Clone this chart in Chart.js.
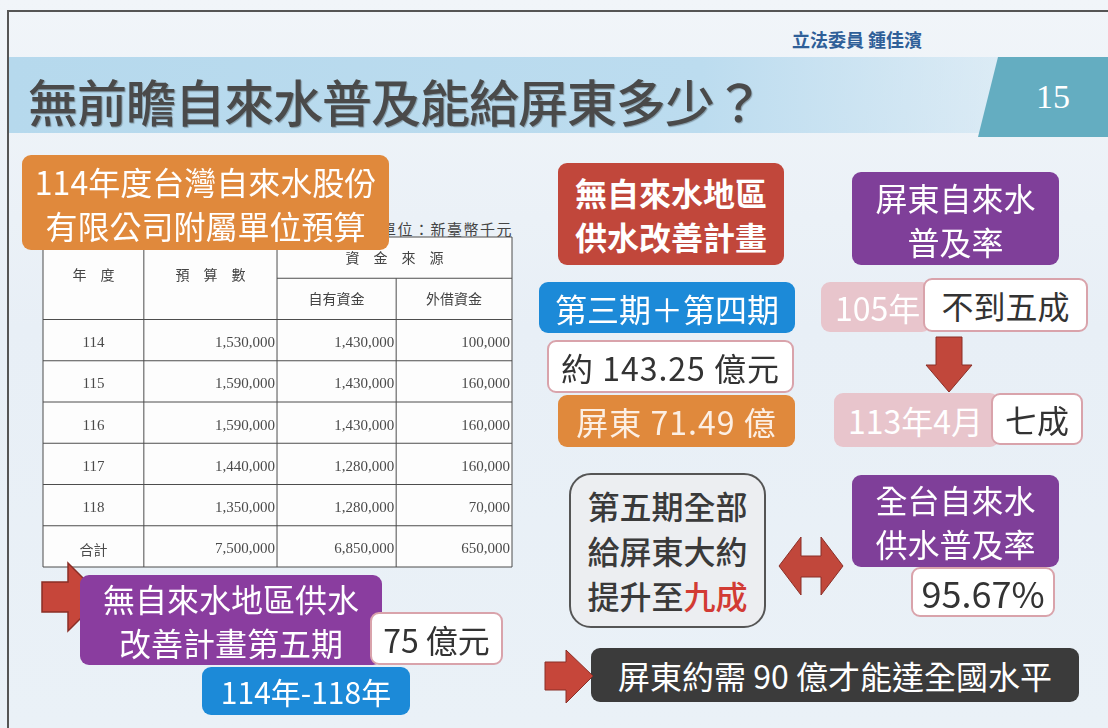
<!DOCTYPE html>
<html lang="zh-Hant">
<head>
<meta charset="UTF-8">
<title>無前瞻自來水普及能給屏東多少？</title>
<script src="https://cdn.jsdelivr.net/npm/chart.js"></script>
<style>
    body {
        margin: 0;
        width: 1108px;
        height: 728px;
        overflow: hidden;
        font-family: "Noto Sans CJK TC", "Noto Sans", sans-serif;
        background: #eaf1f7;
    }
    .slide {
        position: relative;
        width: 1108px;
        height: 728px;
        background: linear-gradient(180deg, #f1f5f9 0%, #e8eff6 45%, #eaf1f7 100%);
    }
    .frame {
        position: absolute;
        left: 7px;
        top: 10px;
        width: 1120px;
        height: 740px;
        border-left: 2px solid #555;
        border-top: 2px solid #555;
    }
    .band {
        position: absolute;
        left: 9px;
        top: 57px;
        width: 990px;
        height: 76px;
        background: linear-gradient(90deg, #b6d9ed 0%, #bcdcef 70%, rgba(190,222,240,0.4) 100%);
    }
    .tab {
        position: absolute;
        left: 978px;
        top: 57px;
        width: 140px;
        height: 80px;
        background: #64adc1;
        clip-path: polygon(20px 0, 140px 0, 140px 80px, 0 80px);
        color: #fff;
        font-family: "Liberation Serif", serif;
        font-size: 34px;
        line-height: 80px;
        text-indent: 58px;
    }
    .title {
        position: absolute;
        left: 28px;
        top: 62px;
        font-size: 50px;
        letter-spacing: -1px;
        font-weight: 500;
        color: #4a4a4a;
        line-height: 76px;
        text-shadow: 1px 1px 1px rgba(0,0,0,0.3);
        white-space: nowrap;
    }
    .author {
        position: absolute;
        left: 792px;
        top: 26px;
        font-size: 18px;
        font-weight: bold;
        color: #2f5f98;
        white-space: nowrap;
    }
    .box {
        position: absolute;
        display: flex;
        align-items: center;
        justify-content: center;
        text-align: center;
        box-sizing: border-box;
        border-radius: 9px;
        font-size: 32px;
        line-height: 44px;
        white-space: nowrap;
        color: #fff;
    }
    .white {
        background: #fff;
        border: 2px solid #d9a3ab;
        color: #333;
    }
    .unit {
        position: absolute;
        left: 381px;
        top: 218px;
        font-size: 15px;
        letter-spacing: 1.5px;
        color: #444;
        white-space: nowrap;
    }
    #tableWrap {
        position: absolute;
        left: 41px;
        top: 235px;
        width: 474px;
        height: 335px;
    }
    svg {
        position: absolute;
        left: 0;
        top: 0;
    }
</style>
</head>
<body>
<div class="slide">
    <div class="band"></div>
    <div class="tab">15</div>
    <div class="frame"></div>
    <div class="author">立法委員 鍾佳濱</div>
    <div class="title">無前瞻自來水普及能給屏東多少？</div>

    <div class="unit">單位：新臺幣千元</div>
    <div id="tableWrap"><canvas id="budgetTable" width="474" height="335"></canvas></div>

    <div class="box" style="left:22px;top:155px;width:367px;height:95px;background:#e0893c;"><div>114年度台灣自來水股份<br>有限公司附屬單位預算</div></div>

    <svg width="1108" height="728">
        <!-- arrow pointing at the purple box, bottom left -->
        <polygon points="42,582 68,582 68,563 102,597 68,631 68,612 42,612" fill="#c6463a" stroke="#8a2e26" stroke-width="1.5"/>
    </svg>

    <div class="box" style="left:80px;top:575px;width:302px;height:90px;background:#8a3d9f;"><div>無自來水地區供水<br>改善計畫第五期</div></div>
    <div class="box white" style="left:370px;top:612px;width:133px;height:53px;">75 億元</div>
    <div class="box" style="left:202px;top:667px;width:208px;height:48px;background:#1c8ad8;font-size:30px;">114年-118年</div>

    <div class="box" style="left:558px;top:163px;width:226px;height:102px;background:#c1473b;font-weight:bold;"><div>無自來水地區<br>供水改善計畫</div></div>
    <div class="box" style="left:852px;top:172px;width:207px;height:93px;background:#7f3f99;"><div>屏東自來水<br>普及率</div></div>

    <div class="box" style="left:539px;top:282px;width:256px;height:51px;background:#1c8ad8;">第三期＋第四期</div>
    <div class="box white" style="left:547px;top:340px;width:247px;height:53px;letter-spacing:1px;">約 143.25 億元</div>
    <div class="box" style="left:558px;top:395px;width:237px;height:52px;background:#e0893c;color:#fcefe4;letter-spacing:1px;">屏東 71.49 億</div>

    <div class="box" style="left:821px;top:282px;width:110px;height:50px;background:#e8c5cc;justify-content:flex-start;padding-left:14px;">105年</div>
    <div class="box white" style="left:923px;top:278px;width:165px;height:54px;">不到五成</div>
    <div class="box" style="left:834px;top:393px;width:165px;height:54px;background:#e8c5cc;justify-content:flex-start;padding-left:14px;">113年4月</div>
    <div class="box white" style="left:991px;top:393px;width:92px;height:52px;">七成</div>

    <div class="box" style="left:569px;top:473px;width:197px;height:155px;background:#eceef1;border:2px solid #555;border-radius:22px;color:#3a3a3a;font-weight:500;line-height:45px;"><div>第五期全部<br>給屏東大約<br>提升至<span style="color:#d23b34;">九成</span></div></div>

    <div class="box" style="left:852px;top:475px;width:207px;height:92px;background:#7f3f99;"><div>全台自來水<br>供水普及率</div></div>
    <div class="box white" style="left:911px;top:567px;width:144px;height:50px;font-size:36px;">95.67%</div>

    <div class="box" style="left:591px;top:648px;width:488px;height:54px;background:#3b3b3b;">屏東約需 90 億才能達全國水平</div>

    <svg width="1108" height="728" style="pointer-events:none;">
        <!-- down arrow 105年 -> 113年4月 -->
        <polygon points="936,337 962,337 962,365 972,365 949,392 926,365 936,365" fill="#c1473b" stroke="#8a2e26" stroke-width="1"/>
        <!-- double arrow -->
        <polygon points="779,566 801,537 801,556 821,556 821,537 843,566 821,595 821,577 801,577 801,595" fill="#c1473b" stroke="#8a2e26" stroke-width="1"/>
        <!-- arrow to conclusion -->
        <polygon points="545,662 566,662 566,650 593,676 566,703 566,690 545,690" fill="#c6463a" stroke="#8a2e26" stroke-width="1"/>
    </svg>
</div>

<script>
    // table data (單位：新臺幣千元)
    const years = ['114', '115', '116', '117', '118', '合計'];
    const budget = [1530000, 1590000, 1590000, 1440000, 1350000, 7500000];
    const ownFunds = [1430000, 1430000, 1430000, 1280000, 1280000, 6850000];
    const borrowed = [100000, 160000, 160000, 160000, 70000, 650000];
    const headerLabels = ['年　度', '預　算　數', '資　金　來　源', '自有資金', '外借資金'];

    // two header rows + data rows on a category axis
    const rowLabels = ['head1', 'head2'].concat(years);
    // column edges in x-axis units (0-100)
    const colEdges = [0, 21.5, 49.9, 75.3, 100];

    const fmt = v => v.toLocaleString('en-US');

    const tablePlugin = {
        id: 'tablePlugin',
        afterDraw(chart) {
            const ctx = chart.ctx;
            const xs = chart.scales.x;
            const ys = chart.scales.y;
            const band = ys.getPixelForValue(1) - ys.getPixelForValue(0);
            const rowTop = i => ys.getPixelForValue(i) - band / 2;
            const colX = c => xs.getPixelForValue(colEdges[c]);
            const top = rowTop(0), bottom = rowTop(rowLabels.length);
            const left = colX(0), right = colX(4);

            ctx.save();
            ctx.fillStyle = '#fdfdfd';
            ctx.fillRect(left, top, right - left, bottom - top);

            ctx.strokeStyle = '#4d4d4d';
            ctx.lineWidth = 1;
            ctx.beginPath();
            ctx.rect(left, top, right - left, bottom - top);
            // vertical lines
            ctx.moveTo(colX(1), top); ctx.lineTo(colX(1), bottom);
            ctx.moveTo(colX(2), top); ctx.lineTo(colX(2), bottom);
            ctx.moveTo(colX(3), rowTop(1)); ctx.lineTo(colX(3), bottom);
            // horizontal lines
            ctx.moveTo(colX(2), rowTop(1)); ctx.lineTo(right, rowTop(1));
            for (let i = 2; i < rowLabels.length; i++) {
                ctx.moveTo(left, rowTop(i)); ctx.lineTo(right, rowTop(i));
            }
            ctx.stroke();

            // header text
            ctx.fillStyle = '#444';
            ctx.font = '14px "Noto Sans CJK TC"';
            ctx.textAlign = 'center';
            ctx.textBaseline = 'middle';
            const midHead = rowTop(1) - 4;
            ctx.fillText(headerLabels[0], (colX(0) + colX(1)) / 2, midHead);
            ctx.fillText(headerLabels[1], (colX(1) + colX(2)) / 2, midHead);
            ctx.fillText(headerLabels[2], (colX(2) + colX(4)) / 2, ys.getPixelForValue(0));
            ctx.fillText(headerLabels[3], (colX(2) + colX(3)) / 2, ys.getPixelForValue(1));
            ctx.fillText(headerLabels[4], (colX(3) + colX(4)) / 2, ys.getPixelForValue(1));

            // data rows
            ctx.fillStyle = '#4a4a4a';
            years.forEach((yr, i) => {
                const y = ys.getPixelForValue(i + 2) + 3;
                ctx.textAlign = 'center';
                ctx.font = i === years.length - 1 ? '14px "Noto Sans CJK TC"' : '15px "Liberation Serif"';
                ctx.fillText(yr, (colX(0) + colX(1)) / 2, y);
                ctx.font = '15px "Liberation Serif"';
                ctx.textAlign = 'right';
                ctx.fillText(fmt(budget[i]), colX(2) - 2, y);
                ctx.fillText(fmt(ownFunds[i]), colX(3) - 2, y);
                ctx.fillText(fmt(borrowed[i]), colX(4) - 2, y);
            });
            ctx.restore();
        }
    };

    new Chart(document.getElementById('budgetTable'), {
        type: 'bar',
        data: { labels: rowLabels, datasets: [] },
        options: {
            responsive: false,
            animation: false,
            indexAxis: 'y',
            layout: { padding: { left: 2, right: 3, top: 2, bottom: 3 } },
            plugins: { legend: { display: false }, tooltip: { enabled: false } },
            scales: {
                x: { type: 'linear', min: 0, max: 100, display: false },
                y: { type: 'category', labels: rowLabels, offset: true, display: false }
            }
        },
        plugins: [tablePlugin]
    });
</script>
</body>
</html>
